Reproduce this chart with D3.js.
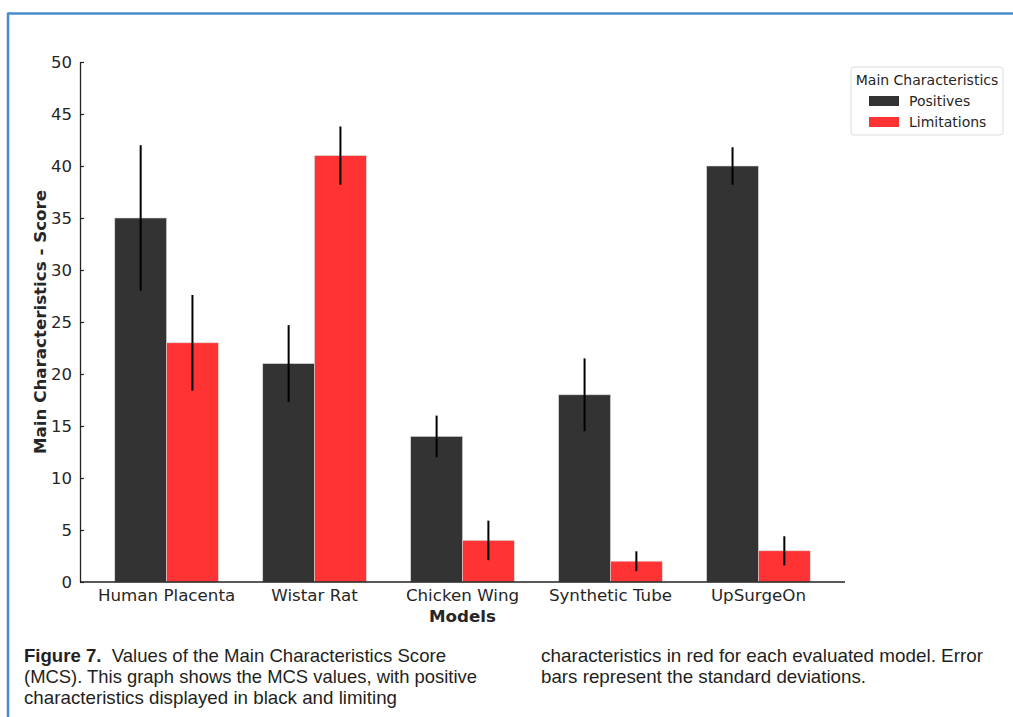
<!DOCTYPE html>
<html>
<head>
<meta charset="utf-8">
<script src="https://cdn.jsdelivr.net/npm/d3@7/dist/d3.min.js"></script>
<style>
  html, body { margin: 0; padding: 0; background: #fff; }
  svg { display: block; }
  .cap { font-family: "Liberation Sans Narrow", "Liberation Sans", Arial, sans-serif; font-size: 19px; fill: #231f20; }
</style>
</head>
<body>
<svg id="fig" width="1013" height="717"></svg>
<script>
// Main Characteristics Score per model
const models = ["Human Placenta", "Wistar Rat", "Chicken Wing", "Synthetic Tube", "UpSurgeOn"];
const positives = [35, 21, 14, 18, 40];
const positivesSD = [7, 3.7, 2, 3.5, 1.8];
const limitations = [23, 41, 4, 2, 3];
const limitationsSD = [4.6, 2.8, 1.9, 0.95, 1.4];
const yTicks = [0, 5, 10, 15, 20, 25, 30, 35, 40, 45, 50];
const seriesNames = ["Positives", "Limitations"];
const seriesColors = ["#333333", "#ff3333"];

const svg = d3.select("#fig");

// page frame
svg.append("line").attr("x1", 8).attr("x2", 1013).attr("y1", 13.5).attr("y2", 13.5)
  .attr("stroke", "#4a8ccd").attr("stroke-width", 2.5);
svg.append("line").attr("x1", 8).attr("x2", 8).attr("y1", 12.5).attr("y2", 717)
  .attr("stroke", "#4a8ccd").attr("stroke-width", 2.5);

const plot = { left: 80, right: 845, top: 62, bottom: 582 };
const tickFont = "'DejaVu Sans', Verdana, sans-serif";

// linear x over category index, padded like the plotting library's default margins
const x = d3.scaleLinear().domain([-0.585, 4.585]).range([plot.left, plot.right]);
const y = d3.scaleLinear().domain([0, 50]).range([plot.bottom, plot.top]);
const barW = x(0.35) - x(0);

const g = svg.append("g");

const series = [
  { name: seriesNames[0], values: positives, sd: positivesSD, color: seriesColors[0], off: -0.175 },
  { name: seriesNames[1], values: limitations, sd: limitationsSD, color: seriesColors[1], off: 0.175 }
];

series.forEach(s => {
  g.selectAll(null).data(s.values).enter().append("rect")
    .attr("x", (d, i) => x(i + s.off) - barW / 2)
    .attr("y", d => y(d))
    .attr("width", barW)
    .attr("height", d => y(0) - y(d))
    .attr("fill", s.color)
    .attr("stroke", "#d8d8d8")
    .attr("stroke-width", 0.6);
});

series.forEach(s => {
  g.selectAll(null).data(s.values).enter().append("line")
    .attr("x1", (d, i) => x(i + s.off))
    .attr("x2", (d, i) => x(i + s.off))
    .attr("y1", (d, i) => y(d + s.sd[i]))
    .attr("y2", (d, i) => y(d - s.sd[i]))
    .attr("stroke", "#000")
    .attr("stroke-width", 2);
});

// y axis (ticks pointing inward)
const yAxis = d3.axisLeft(y).tickValues(yTicks).tickSizeInner(-4).tickSizeOuter(0).tickPadding(8);
const ya = svg.append("g").attr("transform", `translate(${plot.left},0)`).call(yAxis);
ya.select(".domain").attr("stroke", "#222").attr("stroke-width", 1.3);
ya.selectAll(".tick line").attr("stroke", "#222").attr("stroke-width", 1.2);
ya.selectAll(".tick text").attr("font-family", tickFont).attr("font-size", 16.5).attr("fill", "#262626");

// x axis
svg.append("line").attr("x1", plot.left).attr("x2", plot.right)
  .attr("y1", plot.bottom).attr("y2", plot.bottom)
  .attr("stroke", "#222").attr("stroke-width", 1.3);
svg.selectAll(null).data(models).enter().append("text")
  .attr("x", (d, i) => x(i)).attr("y", 601)
  .attr("text-anchor", "middle")
  .attr("font-family", tickFont).attr("font-size", 16.7).attr("fill", "#262626")
  .text(d => d);

// axis titles
svg.append("text").attr("x", x(2)).attr("y", 622).attr("text-anchor", "middle")
  .attr("font-family", tickFont).attr("font-size", 16.7).attr("font-weight", "bold").attr("fill", "#262626")
  .text("Models");
svg.append("text").attr("transform", `translate(46,${(plot.top + plot.bottom) / 2}) rotate(-90)`)
  .attr("text-anchor", "middle")
  .attr("font-family", tickFont).attr("font-size", 16.7).attr("font-weight", "bold").attr("fill", "#262626")
  .text("Main Characteristics - Score");

// legend
const lg = svg.append("g").attr("transform", "translate(851,67)");
lg.append("rect").attr("width", 152).attr("height", 68).attr("rx", 3)
  .attr("fill", "#fff").attr("stroke", "#dcdcdc").attr("stroke-width", 1);
lg.append("text").attr("x", 76).attr("y", 18).attr("text-anchor", "middle")
  .attr("font-family", tickFont).attr("font-size", 14).attr("fill", "#262626")
  .text("Main Characteristics");
series.forEach((s, i) => {
  lg.append("rect").attr("x", 18).attr("y", 29 + i * 21).attr("width", 30).attr("height", 10)
    .attr("fill", s.color);
  lg.append("text").attr("x", 58).attr("y", 39 + i * 21)
    .attr("font-family", tickFont).attr("font-size", 14).attr("fill", "#262626")
    .text(s.name);
});

// caption, set in two columns
const capL = [
  { parts: [{ t: "Figure 7.", b: true }, { t: "  Values of the Main Characteristics Score", b: false }], w: 422 },
  { parts: [{ t: "(MCS). This graph shows the MCS values, with positive", b: false }], w: 453 },
  { parts: [{ t: "characteristics displayed in black and limiting", b: false }], w: 373 }
];
const capR = [
  { t: "characteristics in red for each evaluated model. Error", w: 442 },
  { t: "bars represent the standard deviations.", w: 325 }
];
capL.forEach((line, i) => {
  const t = svg.append("text").attr("class", "cap").attr("x", 24).attr("y", 662 + i * 21)
    .attr("textLength", line.w).attr("lengthAdjust", "spacingAndGlyphs")
    .attr("xml:space", "preserve");
  line.parts.forEach(p => t.append("tspan").attr("font-weight", p.b ? "bold" : "normal").text(p.t));
});
capR.forEach((line, i) => {
  svg.append("text").attr("class", "cap").attr("x", 541).attr("y", 662 + i * 21)
    .attr("textLength", line.w).attr("lengthAdjust", "spacingAndGlyphs")
    .text(line.t);
});
</script>
</body>
</html>
